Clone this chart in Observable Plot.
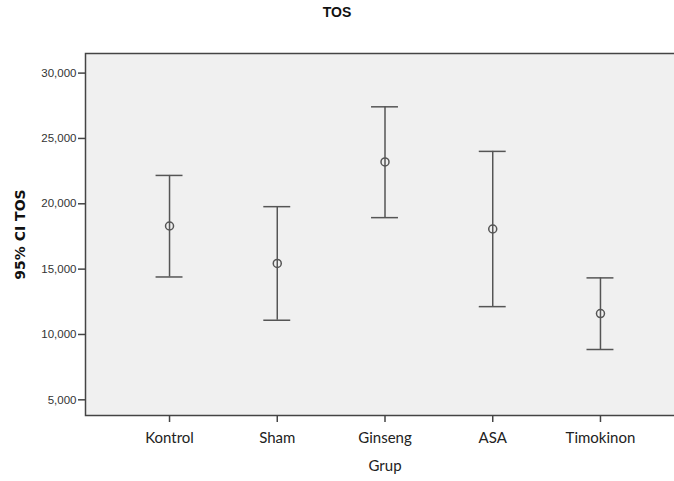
<!DOCTYPE html>
<html>
<head>
<meta charset="utf-8">
<script src="https://cdn.jsdelivr.net/npm/d3@7"></script>
<script src="https://cdn.jsdelivr.net/npm/@observablehq/plot@0.6"></script>
<style>
  html, body { margin: 0; padding: 0; background: #fff; overflow: hidden; width: 674px; height: 481px; }
  #title { height: 30px; box-sizing: border-box; padding-top: 5px; text-align: center;
           font: bold 14px "Liberation Sans", Arial, sans-serif; line-height: 14px; color: #111; }
  svg { display: block; }
</style>
</head>
<body>
<div id="title">TOS</div>
<div id="chart"></div>
<script>
const groups = ["Kontrol", "Sham", "Ginseng", "ASA", "Timokinon"];
const means  = [18.30, 15.44, 23.20, 18.07, 11.60];
const lower  = [14.40, 11.09, 18.94, 12.13, 8.85];
const upper  = [22.17, 19.78, 27.42, 24.01, 14.33];
const yTicks = [5, 10, 15, 20, 25, 30];

const data = groups.map((g, i) => ({grup: g, mean: means[i], lo: lower[i], hi: upper[i]}));
const fmt = d => d3.format(".3f")(d).replace(".", ",");
const lineColor = "#555";
const catFont = "Lato, 'Open Sans', sans-serif";

const chart = Plot.plot({
  width: 674,
  height: 451,
  marginTop: 23,
  marginBottom: 66,
  marginLeft: 85,
  marginRight: -10,
  style: {fontFamily: "'Liberation Sans', Arial, sans-serif", background: "transparent", overflow: "hidden"},
  x: {type: "band", domain: groups, paddingInner: 0.75, paddingOuter: 0.655, round: false, axis: null},
  y: {domain: [3.8, 31.5], axis: null},
  marks: [
    Plot.frame({fill: "#f0f0f0", stroke: "#444", strokeWidth: 1.5}),
    Plot.axisY({ticks: yTicks, tickFormat: fmt, tickSize: 7, tickPadding: 2, fontSize: 11.5,
                fill: "#333", stroke: "#444", strokeWidth: 1.5, label: null}),
    Plot.axisX({tickSize: 7, tickPadding: 10, fontSize: 15, fontFamily: catFont,
                fill: "#222", stroke: "#444", strokeWidth: 1.5, label: null}),
    Plot.ruleX(data, {x: "grup", y1: "lo", y2: "hi", stroke: lineColor, strokeWidth: 1.5}),
    Plot.tickY(data, {x: "grup", y: "lo", stroke: lineColor, strokeWidth: 1.5}),
    Plot.tickY(data, {x: "grup", y: "hi", stroke: lineColor, strokeWidth: 1.5}),
    Plot.dot(data, {x: "grup", y: "mean", r: 4, stroke: lineColor, strokeWidth: 1.5, fill: "none"}),
    Plot.text(["95% CI TOS"], {frameAnchor: "left", textAnchor: "middle", lineAnchor: "middle",
                               rotate: -90, dx: -65, fontWeight: "bold", fontSize: 14,
                               fontFamily: "'DejaVu Sans', sans-serif", fill: "#111"}),
    Plot.text(["Grup"], {frameAnchor: "bottom", lineAnchor: "middle", dy: 51, fontSize: 15,
                         fontFamily: catFont, fill: "#222"})
  ]
});
document.getElementById("chart").appendChild(chart);
</script>
</body>
</html>
